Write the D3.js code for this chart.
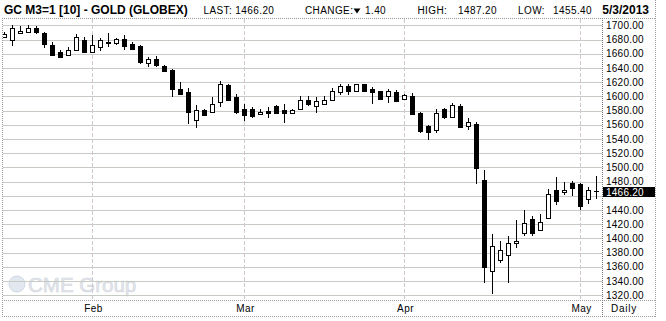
<!DOCTYPE html>
<html>
<head>
<meta charset="utf-8">
<script src="https://cdn.jsdelivr.net/npm/d3@7"></script>
<style>
  body { margin: 0; background: #fff; }
  svg { display: block; }
  text { font-family: "Liberation Sans", Arial, sans-serif; }
</style>
</head>
<body>
<div id="chart"></div>
<script>
"use strict";

// Trading days shown (one candle each).
const dates = [
  "2013-01-16", "2013-01-17", "2013-01-18", "2013-01-22", "2013-01-23", "2013-01-24", "2013-01-25",
  "2013-01-28", "2013-01-29", "2013-01-30", "2013-01-31",
  "2013-02-01", "2013-02-04", "2013-02-05", "2013-02-06", "2013-02-07", "2013-02-08", "2013-02-11",
  "2013-02-12", "2013-02-13", "2013-02-14", "2013-02-15", "2013-02-19", "2013-02-20", "2013-02-21",
  "2013-02-22", "2013-02-25", "2013-02-26", "2013-02-27", "2013-02-28",
  "2013-03-01", "2013-03-04", "2013-03-05", "2013-03-06", "2013-03-07", "2013-03-08", "2013-03-11",
  "2013-03-12", "2013-03-13", "2013-03-14", "2013-03-15", "2013-03-18", "2013-03-19", "2013-03-20",
  "2013-03-21", "2013-03-22", "2013-03-25", "2013-03-26", "2013-03-27", "2013-03-28",
  "2013-04-01", "2013-04-02", "2013-04-03", "2013-04-04", "2013-04-05", "2013-04-08", "2013-04-09",
  "2013-04-10", "2013-04-11", "2013-04-12", "2013-04-15", "2013-04-16", "2013-04-17", "2013-04-18",
  "2013-04-19", "2013-04-22", "2013-04-23", "2013-04-24", "2013-04-25", "2013-04-26", "2013-04-29",
  "2013-04-30",
  "2013-05-01", "2013-05-02", "2013-05-03"
];

const opens = [
  1684, 1680, 1689, 1691, 1697, 1689, 1672, 1662, 1658, 1666, 1679,
  1663, 1669, 1676, 1675, 1681, 1674, 1671, 1647, 1653, 1643, 1637, 1611, 1606, 1567,
  1581, 1578, 1592, 1616, 1599,
  1582, 1582, 1575, 1580, 1586, 1581, 1577, 1582, 1595, 1587, 1590, 1595, 1606, 1615,
  1608, 1617, 1611, 1607, 1600, 1606,
  1597, 1600, 1577, 1558, 1553, 1582, 1571, 1586, 1558, 1561, 1482, 1354, 1370, 1376,
  1393, 1407, 1427, 1412, 1429, 1468, 1465, 1478,
  1476, 1456, 1466.5
];
const highs = [
  1690, 1700, 1699, 1700, 1699, 1690, 1676, 1665, 1669, 1688, 1684,
  1686, 1682, 1689, 1682, 1686, 1676, 1672, 1656, 1657, 1644, 1638, 1620, 1612, 1588,
  1582, 1599, 1621, 1617, 1604,
  1589, 1585, 1582, 1585, 1588, 1589, 1582, 1600, 1600, 1599, 1600, 1612, 1617, 1617,
  1618, 1618, 1613, 1608, 1611, 1609,
  1603, 1605, 1578, 1560, 1582, 1583, 1591, 1589, 1569, 1564, 1496, 1406, 1396, 1404,
  1426, 1440, 1432, 1434, 1470, 1486, 1479, 1481,
  1478, 1473, 1487.2
];
const lows = [
  1682, 1671, 1688, 1690, 1688, 1668, 1658, 1654, 1657, 1665, 1661,
  1662, 1664, 1669, 1672, 1666, 1666, 1646, 1641, 1642, 1635, 1599, 1602, 1561, 1555,
  1572, 1577, 1585, 1594, 1575,
  1566, 1570, 1574, 1569, 1575, 1563, 1576, 1581, 1586, 1577, 1589, 1593, 1602, 1602,
  1606, 1606, 1590, 1595, 1591, 1593,
  1596, 1574, 1549, 1539, 1549, 1568, 1570, 1556, 1553, 1476, 1337, 1321, 1366, 1337,
  1386, 1404, 1404, 1411, 1427, 1447, 1461, 1460,
  1440, 1449, 1455.4
];
const closes = [
  1688, 1696, 1692, 1697, 1691, 1674, 1659, 1656, 1665, 1683, 1663,
  1673, 1679, 1675, 1681, 1671, 1667, 1649, 1652, 1644, 1636, 1610, 1603, 1578, 1581,
  1574, 1589, 1617, 1595, 1578,
  1574, 1573, 1578, 1576, 1576, 1577, 1581, 1595, 1589, 1593, 1595, 1608, 1615, 1608,
  1617, 1607, 1606, 1596, 1607, 1594,
  1602, 1575, 1551, 1550, 1576, 1571, 1588, 1557, 1564, 1499, 1360, 1389, 1384, 1393,
  1396, 1422, 1408, 1423, 1462, 1453, 1468, 1471,
  1445, 1467.6, 1466.2
];

const yTicks = [1320, 1340, 1360, 1380, 1400, 1420, 1440, 1460, 1480, 1500, 1520,
  1540, 1560, 1580, 1600, 1620, 1640, 1660, 1680, 1700];
const monthStarts = ["2013-02-01", "2013-03-01", "2013-04-01", "2013-05-01"];
const monthLabels = ["Feb", "Mar", "Apr", "May"];

const title = "GC M3=1 [10] - GOLD (GLOBEX)";
const lastPrice = 1466.20;
const changeValue = "1.40";
const highValue = "1487.20";
const lowValue = "1455.40";
const sessionDate = "5/3/2013";

const width = 666, height = 321;
const plotLeft = 3, plotRight = 602.5, plotTop = 19, plotBottom = 300.5;

const svg = d3.select("#chart").append("svg")
  .attr("width", width)
  .attr("height", height);

svg.append("rect").attr("width", width).attr("height", height).attr("fill", "#fff");

const x = d3.scalePoint().domain(dates).range([4.5, 596.5]);
const y = d3.scaleLinear().domain([1320, 1700]).range([295.2, 25.4]);

// Faint logo in the corner, drawn under the grid.
const logo = svg.append("g").attr("opacity", 0.9);
logo.append("circle")
  .attr("cx", 17).attr("cy", 284).attr("r", 8)
  .attr("fill", "#dfe6ef").attr("stroke", "#cbd5e2");
logo.append("text")
  .attr("x", 28).attr("y", 292)
  .style("font-size", "20.5px")
  .attr("fill", "#e1e4eb")
  .attr("stroke", "#cdd2db")
  .attr("stroke-width", 0.6)
  .text("CME Group");

// Horizontal grid.
svg.append("g").selectAll("line")
  .data(yTicks)
  .join("line")
  .attr("x1", plotLeft)
  .attr("x2", plotRight)
  .attr("y1", d => Math.round(y(d)) + 0.5)
  .attr("y2", d => Math.round(y(d)) + 0.5)
  .attr("stroke", "#c6ccc4")
  .attr("stroke-width", 1);

// Vertical month grid, dashed.
svg.append("g").selectAll("line")
  .data(monthStarts)
  .join("line")
  .attr("x1", d => x(d))
  .attr("x2", d => x(d))
  .attr("y1", plotTop)
  .attr("y2", plotBottom)
  .attr("stroke", "#d3c6d3")
  .attr("stroke-dasharray", "4,2");

// Candles.
const candles = dates.map((d, i) => ({
  date: d, open: opens[i], high: highs[i], low: lows[i], close: closes[i]
}));

svg.append("clipPath").attr("id", "plotClip")
  .append("rect")
  .attr("x", plotLeft).attr("y", plotTop)
  .attr("width", plotRight - plotLeft).attr("height", plotBottom - plotTop);

const candleG = svg.append("g").attr("clip-path", "url(#plotClip)");

candleG.selectAll("line.wick")
  .data(candles)
  .join("line")
  .attr("class", "wick")
  .attr("x1", d => x(d.date))
  .attr("x2", d => x(d.date))
  .attr("y1", d => Math.round(y(d.high)))
  .attr("y2", d => Math.round(y(d.low)))
  .attr("stroke", "#000")
  .attr("stroke-width", 1);

candleG.selectAll("rect.body")
  .data(candles)
  .join("rect")
  .attr("class", "body")
  .each(function(d) {
    let top = Math.round(y(Math.max(d.open, d.close)));
    let bottom = Math.round(y(Math.min(d.open, d.close)));
    let cx = x(d.date);
    let up = d.close >= d.open;
    if (up) {
      // Hollow body: white fill with a 1px outline.
      d3.select(this)
        .attr("x", cx - 2)
        .attr("y", top + 0.5)
        .attr("width", 4)
        .attr("height", Math.max(1, bottom - top))
        .attr("fill", "#fff")
        .attr("stroke", "#000")
        .attr("stroke-width", 1);
    } else {
      d3.select(this)
        .attr("x", cx - 2.5)
        .attr("y", top)
        .attr("width", 5)
        .attr("height", Math.max(1, bottom - top + 1))
        .attr("fill", "#000");
    }
  });

// Frame and axis lines.
const frame = svg.append("g").attr("fill", "none").attr("stroke", "#9a9a9a").attr("stroke-dasharray", "1,1");
frame.append("line").attr("x1", 2).attr("x2", 655).attr("y1", 18.5).attr("y2", 18.5);
frame.append("line").attr("x1", 2.5).attr("x2", 2.5).attr("y1", 18).attr("y2", 317);
frame.append("line").attr("x1", 655.5).attr("x2", 655.5).attr("y1", 0).attr("y2", 317);
frame.append("line").attr("x1", 2).attr("x2", 656).attr("y1", 316.5).attr("y2", 316.5);
frame.append("line").attr("x1", 2).attr("x2", 656).attr("y1", plotBottom).attr("y2", plotBottom);
frame.append("line").attr("x1", plotRight).attr("x2", plotRight).attr("y1", 18).attr("y2", 317)
  .attr("stroke", "#777");

// Y axis labels on the right; the one under the last-price box is hidden there.
const lastY = Math.round(y(lastPrice));
svg.append("g").selectAll("text")
  .data(yTicks.filter(d => Math.abs(y(d) - lastY) > 7))
  .join("text")
  .attr("x", 606)
  .attr("y", d => y(d))
  .attr("dy", "0.35em")
  .style("font-size", "10px")
  .style("letter-spacing", "0.25px")
  .attr("fill", "#000")
  .text(d => d3.format(".2f")(d));

// Last price marker.
svg.append("rect")
  .attr("x", 603).attr("y", lastY - 4)
  .attr("width", 52).attr("height", 10)
  .attr("fill", "#000");
svg.append("text")
  .attr("x", 606).attr("y", lastY + 1)
  .attr("dy", "0.35em")
  .style("font-size", "10px")
  .style("letter-spacing", "0.25px")
  .attr("fill", "#fff")
  .text(d3.format(".2f")(lastPrice));

// Month labels.
svg.append("g").selectAll("text")
  .data(monthStarts)
  .join("text")
  .attr("x", d => x(d) + 1)
  .attr("y", 312)
  .attr("text-anchor", "middle")
  .style("font-size", "10px")
  .style("letter-spacing", "0.4px")
  .text((d, i) => monthLabels[i]);

svg.append("text")
  .attr("x", 624).attr("y", 312)
  .attr("text-anchor", "middle")
  .style("font-size", "10px")
  .style("letter-spacing", "0.8px")
  .text("Daily");

// Header.
svg.append("text")
  .attr("x", 4).attr("y", 14)
  .style("font-size", "12px")
  .style("font-weight", "bold")
  .text(title);

const header = svg.append("g")
  .style("font-size", "10px")
  .style("letter-spacing", "0.4px");
header.append("text").attr("x", 203.5).attr("y", 14).text("LAST: " + d3.format(".2f")(lastPrice));
header.append("text").attr("x", 305).attr("y", 14).text("CHANGE:");
header.append("path")
  .attr("d", "M353.5,8.5 L360.5,8.5 L357,13.5 Z")
  .attr("fill", "#000");
header.append("text").attr("x", 365).attr("y", 14).text(changeValue);
header.append("text").attr("x", 417.5).attr("y", 14).text("HIGH:");
header.append("text").attr("x", 497).attr("y", 14).attr("text-anchor", "end").text(highValue);
header.append("text").attr("x", 518).attr("y", 14).text("LOW:");
header.append("text").attr("x", 592).attr("y", 14).attr("text-anchor", "end").text(lowValue);

svg.append("text")
  .attr("x", 649).attr("y", 14)
  .attr("text-anchor", "end")
  .style("font-size", "12px")
  .style("font-weight", "bold")
  .text(sessionDate);
</script>
</body>
</html>
